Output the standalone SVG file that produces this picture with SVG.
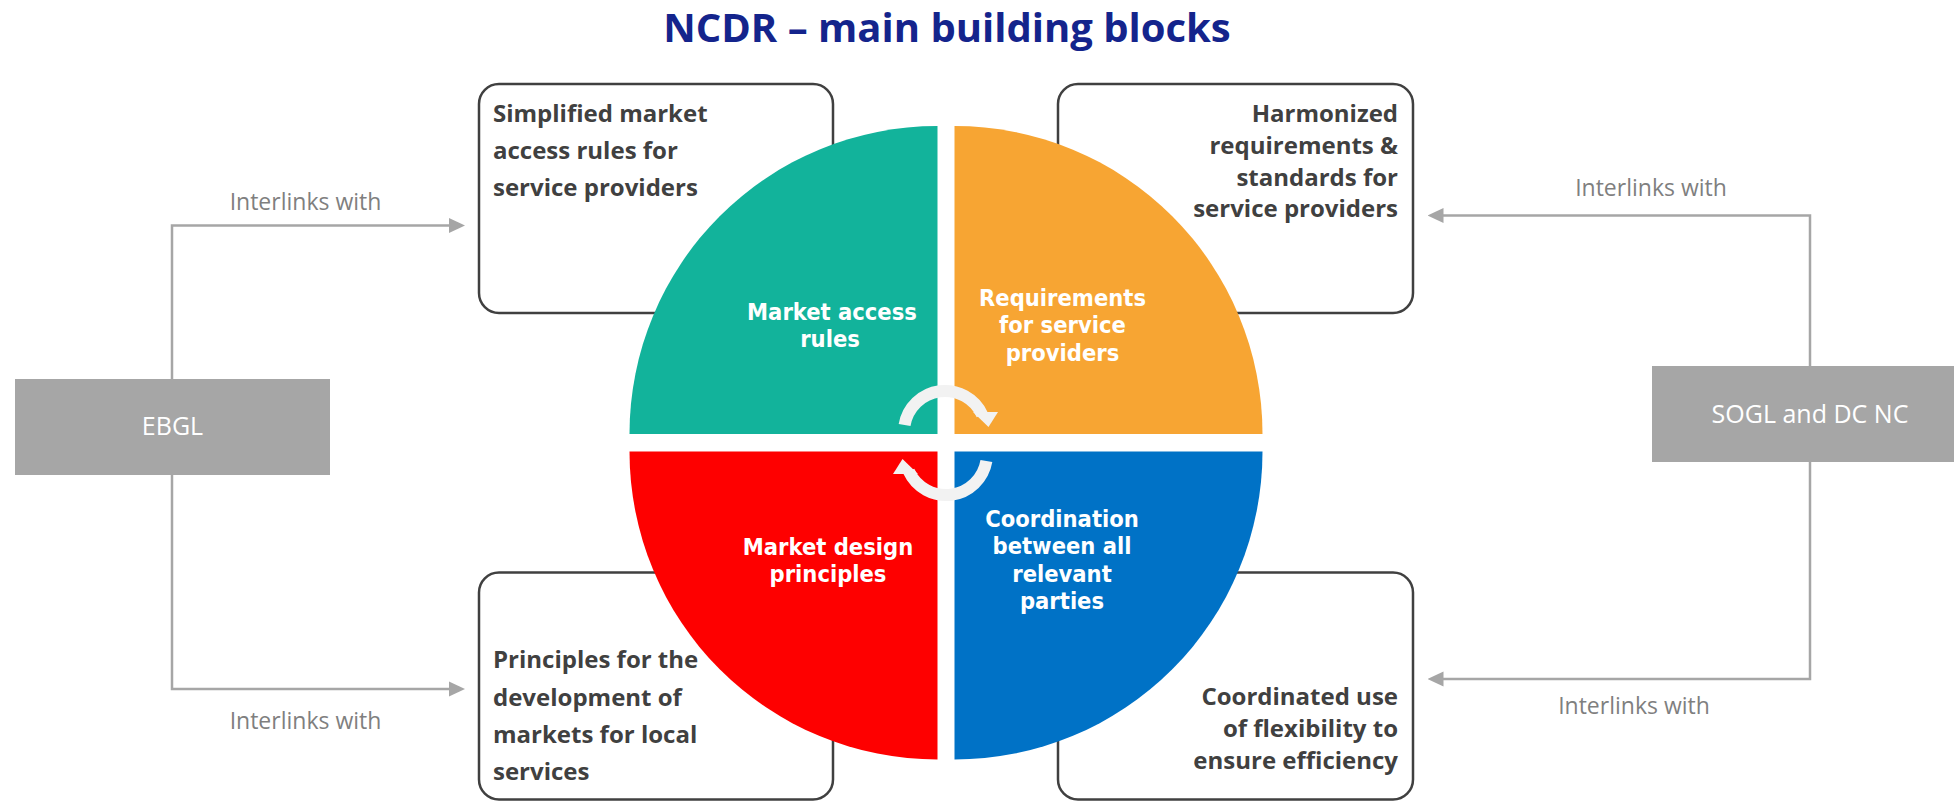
<svg xmlns="http://www.w3.org/2000/svg" width="1954" height="801" viewBox="0 0 1954 801">
<defs>
<style>
.box{fill:#ffffff;stroke:#404040;stroke-width:2.5}
.bt{font-family:"Open Sans","Liberation Sans",sans-serif;font-weight:700;font-size:24px;fill:#404040}
.ql{font-family:"DejaVu Sans Condensed","DejaVu Sans",sans-serif;font-stretch:condensed;font-weight:700;font-size:23.5px;fill:#ffffff;text-anchor:middle}
.lbl{font-family:"Open Sans","Liberation Sans",sans-serif;font-size:23px;fill:#7f7f7f;text-anchor:middle}
.src{fill:#a6a6a6}
.srct{font-family:"Open Sans","Liberation Sans",sans-serif;font-size:25px;fill:#ffffff;text-anchor:middle}
.con{fill:none;stroke:#a6a6a6;stroke-width:2.5}
.cyc{fill:none;stroke:#f2f2f2;stroke-width:12}
.cych{fill:#f2f2f2}
</style>
<marker id="ah" markerUnits="userSpaceOnUse" viewBox="0 0 16 16" refX="8" refY="8" markerWidth="16" markerHeight="16" orient="auto">
<path d="M0,0.5 L16,8 L0,15.5 Z" fill="#a6a6a6"/>
</marker>
</defs>
<rect width="1954" height="801" fill="#ffffff"/>

<text id="title" x="947" y="41.5" text-anchor="middle" font-family="'Open Sans','Liberation Sans',sans-serif" font-weight="700" font-size="40" fill="#14248c">NCDR – main building blocks</text>

<g id="connectors">
<path class="con" d="M172,379 V225.5 H457" marker-end="url(#ah)"/>
<path class="con" d="M172,475 V689 H457" marker-end="url(#ah)"/>
<path class="con" d="M1810,366 V215.5 H1435.5" marker-end="url(#ah)"/>
<path class="con" d="M1810,462 V679 H1435.5" marker-end="url(#ah)"/>
<text class="lbl" x="305.5" y="210">Interlinks with</text>
<text class="lbl" x="305.5" y="729">Interlinks with</text>
<text class="lbl" x="1651" y="196">Interlinks with</text>
<text class="lbl" x="1634" y="713.5">Interlinks with</text>
</g>

<g id="ebgl">
<rect class="src" x="15" y="379" width="315" height="96"/>
<text class="srct" x="172.5" y="435">EBGL</text>
</g>
<g id="sogl">
<rect class="src" x="1652" y="366" width="302" height="96"/>
<text class="srct" x="1810" y="423">SOGL and DC NC</text>
</g>

<g id="box-tl">
<rect class="box" x="479" y="84" width="354" height="229" rx="20"/>
<text class="bt" x="493"><tspan x="493" y="121.7">Simplified market</tspan><tspan x="493" y="159">access rules for</tspan><tspan x="493" y="196.3">service providers</tspan></text>
</g>
<g id="box-tr">
<rect class="box" x="1058" y="84" width="355" height="229" rx="20"/>
<text class="bt" text-anchor="end"><tspan x="1398" y="121.7">Harmonized</tspan><tspan x="1398" y="153.6">requirements &amp;</tspan><tspan x="1398" y="185.5">standards for</tspan><tspan x="1398" y="217.4">service providers</tspan></text>
</g>
<g id="box-bl">
<rect class="box" x="479" y="572.5" width="354" height="227" rx="20"/>
<text class="bt"><tspan x="493" y="668.3">Principles for the</tspan><tspan x="493" y="705.6">development of</tspan><tspan x="493" y="742.9">markets for local</tspan><tspan x="493" y="780.2">services</tspan></text>
</g>
<g id="box-br">
<rect class="box" x="1058" y="572.5" width="355" height="227" rx="20"/>
<text class="bt" text-anchor="end"><tspan x="1398" y="704.5">Coordinated use</tspan><tspan x="1398" y="736.5">of flexibility to</tspan><tspan x="1398" y="768.5">ensure efficiency</tspan></text>
</g>

<g id="q-market-access">
<path d="M937.5,434 L629.5,434 A308,308 0 0 1 937.5,126 Z" fill="#12b39b"/>
<text class="ql"><tspan x="832" y="320">Market access</tspan><tspan x="830" y="347">rules</tspan></text>
</g>
<g id="q-requirements">
<path d="M954.5,434 L954.5,126 A308,308 0 0 1 1262.5,434 Z" fill="#f7a533"/>
<text class="ql"><tspan x="1062.5" y="305.5">Requirements</tspan><tspan x="1062.5" y="333">for service</tspan><tspan x="1062.5" y="360.5">providers</tspan></text>
</g>
<g id="q-coordination">
<path d="M954.5,451.5 L1262.5,451.5 A308,308 0 0 1 954.5,759.5 Z" fill="#0072c6"/>
<text class="ql"><tspan x="1062" y="526.5">Coordination</tspan><tspan x="1062" y="554">between all</tspan><tspan x="1062" y="581.5">relevant</tspan><tspan x="1062" y="609">parties</tspan></text>
</g>
<g id="q-market-design">
<path d="M937.5,451.5 L937.5,759.5 A308,308 0 0 1 629.5,451.5 Z" fill="#fe0000"/>
<text class="ql"><tspan x="828" y="554.5">Market design</tspan><tspan x="828" y="582">principles</tspan></text>
</g>

<g id="cycle-arrows">
<path class="cyc" d="M904.6,425 A41,41 0 0 1 982.2,414.7"/>
<polygon class="cych" points="973,412 998,412 988.5,427"/>
<path class="cyc" d="M986.4,461 A41,41 0 0 1 908.8,471.3"/>
<polygon class="cych" points="918,474 893,474 902.5,459"/>
</g>
</svg>
